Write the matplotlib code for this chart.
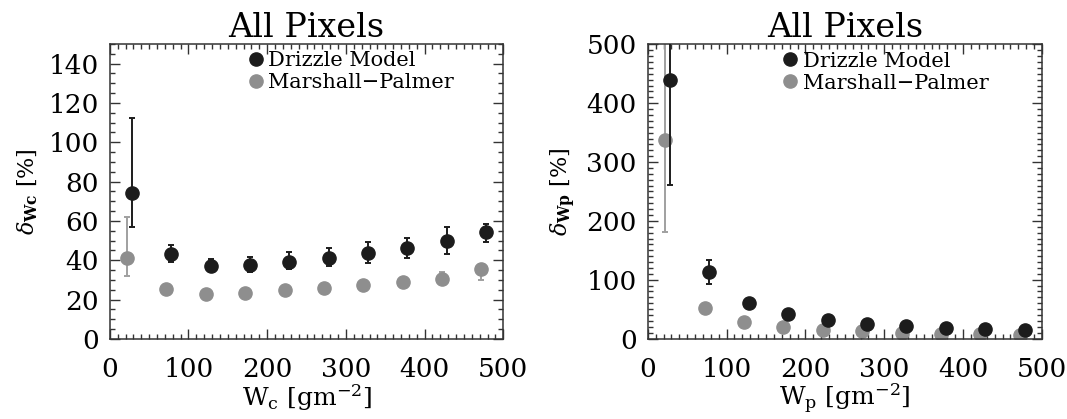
import matplotlib
matplotlib.use("Agg")
import matplotlib.pyplot as plt
from matplotlib.lines import Line2D
from matplotlib.ticker import MultipleLocator

plt.rcParams["font.family"] = ["DejaVu Serif"]
plt.rcParams["mathtext.fontset"] = "dejavuserif"

# left panel: cloud water path
wc_drizzle = [28, 78, 128, 178, 228, 278, 328, 378, 428, 478]
dc_drizzle = [74.1, 43.1, 37.3, 37.6, 39.3, 41.3, 43.9, 46.1, 50.0, 54.2]
dc_drizzle_lo = [57.1, 39.3, 35.0, 34.2, 35.6, 37.3, 38.5, 41.3, 43.2, 49.5]
dc_drizzle_hi = [112.5, 47.8, 40.7, 41.8, 44.4, 46.4, 49.5, 51.5, 57.1, 58.5]

wc_mp = [22, 72, 122, 172, 222, 272, 322, 372, 422, 472]
dc_mp = [41.3, 25.3, 22.9, 23.6, 24.9, 26.1, 27.5, 29.1, 30.4, 35.4]
dc_mp_lo = [32.2, 25.3, 22.9, 23.6, 24.9, 26.1, 27.5, 29.1, 30.4, 30.0]
dc_mp_hi = [62.2, 25.3, 22.9, 23.6, 24.9, 26.1, 27.5, 29.1, 34.2, 38.0]

# right panel: precipitation water path
wp_drizzle = [28, 78, 128, 178, 228, 278, 328, 378, 428, 478]
dp_drizzle = [440, 112.7, 59.9, 41.2, 31.0, 24.7, 20.7, 17.3, 16.2, 13.9]
dp_drizzle_lo = [260.7, 92.7, 59.9, 41.2, 31.0, 24.7, 20.7, 17.3, 16.2, 13.9]
dp_drizzle_hi = [620, 133.6, 59.9, 41.2, 31.0, 24.7, 20.7, 17.3, 16.2, 13.9]

wp_mp = [22, 72, 122, 172, 222, 272, 322, 372, 422, 472]
dp_mp = [337.8, 52.4, 28.6, 19.6, 14.5, 12.1, 8.8, 7.6, 7.0, 5.4]
dp_mp_lo = [180.7, 52.4, 28.6, 19.6, 14.5, 12.1, 8.8, 7.6, 7.0, 5.4]
dp_mp_hi = [700, 52.4, 28.6, 19.6, 14.5, 12.1, 8.8, 7.6, 7.0, 5.4]

BLACK = "#1c1c1c"
GREY = "#8e8e8e"
GREY_ERR = "#a0a0a0"


def panel(ax, x1, y1, lo1, hi1, x2, y2, lo2, hi2, ylim, ymaj, ymin, xlab, ylab, leg_x):
    err1 = [[y - l for y, l in zip(y1, lo1)], [h - y for y, h in zip(y1, hi1)]]
    err2 = [[y - l for y, l in zip(y2, lo2)], [h - y for y, h in zip(y2, hi2)]]
    ax.errorbar(x2, y2, yerr=err2, fmt="o", color=GREY, ecolor=GREY_ERR,
                ms=9.5, elinewidth=1.4, capsize=2, capthick=1.4, zorder=2)
    ax.errorbar(x1, y1, yerr=err1, fmt="o", color=BLACK, ecolor=BLACK,
                ms=9.5, elinewidth=1.4, capsize=2, capthick=1.4, zorder=3)
    ax.set_xlim(0, 500)
    ax.set_ylim(*ylim)
    ax.xaxis.set_major_locator(MultipleLocator(100))
    ax.xaxis.set_minor_locator(MultipleLocator(10))
    ax.yaxis.set_major_locator(MultipleLocator(ymaj))
    ax.yaxis.set_minor_locator(MultipleLocator(ymin))
    ax.tick_params(which="both", direction="in", top=True, right=True,
                   labelsize=19, width=1.0, color="#333333")
    ax.tick_params(which="major", length=7)
    ax.tick_params(axis="x", which="major", pad=13)
    ax.tick_params(axis="y", which="major", pad=8)
    ax.tick_params(which="minor", length=3.5)
    for s in ax.spines.values():
        s.set_linewidth(1.1)
        s.set_color("#333333")
    ax.set_title("All Pixels", fontsize=24, pad=5)
    ax.set_xlabel(xlab, fontsize=18, labelpad=0)
    ax.set_ylabel(ylab, fontsize=16, labelpad=6)
    handles = [
        Line2D([], [], ls="none", marker="o", ms=9.5, color=BLACK),
        Line2D([], [], ls="none", marker="o", ms=9.5, color=GREY),
    ]
    ax.legend(handles, ["Drizzle Model", "Marshall\u2212Palmer"], loc="upper left",
              bbox_to_anchor=(leg_x, 0.99), frameon=False, fontsize=15,
              handlelength=0.6, handletextpad=0.3, labelspacing=0.15,
              borderpad=0.2, borderaxespad=0)


fig = plt.figure(figsize=(10.67, 4.19), dpi=100)
ax1 = fig.add_axes([0.1029, 0.191, 0.3688, 0.704])
ax2 = fig.add_axes([0.6071, 0.192, 0.3694, 0.702])

panel(ax1, wc_drizzle, dc_drizzle, dc_drizzle_lo, dc_drizzle_hi,
      wc_mp, dc_mp, dc_mp_lo, dc_mp_hi, (0, 150), 20, 5,
      r"W$_\mathrm{c}$ [gm$^{-2}$]", r"$\delta_{\mathbf{Wc}}$ [%]", 0.345)
panel(ax2, wp_drizzle, dp_drizzle, dp_drizzle_lo, dp_drizzle_hi,
      wp_mp, dp_mp, dp_mp_lo, dp_mp_hi, (0, 500), 100, 10,
      r"W$_\mathrm{p}$ [gm$^{-2}$]", r"$\delta_{\mathbf{Wp}}$ [%]", 0.335)

fig.savefig("out.png", dpi=100)
